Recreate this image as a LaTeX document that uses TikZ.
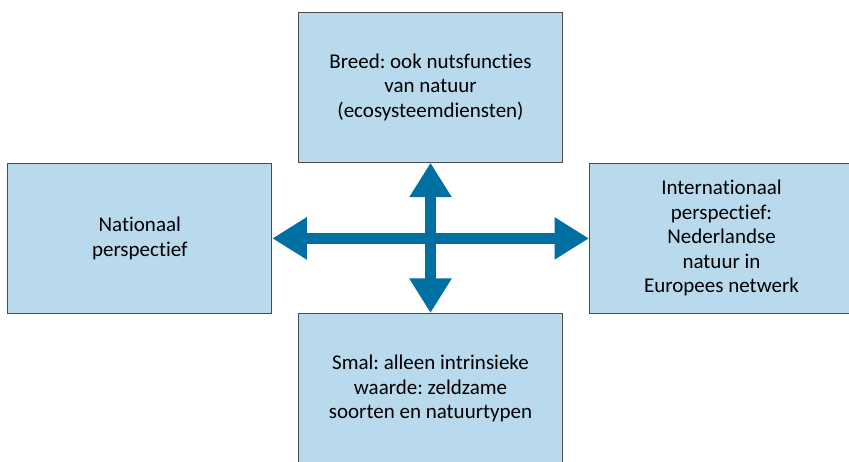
\documentclass[tikz,border=0pt]{standalone}
\usepackage{fontspec}
\setmainfont{Carlito}[Ligatures=CommonOff]
\frenchspacing
\usetikzlibrary{arrows.meta}
\definecolor{boxblue}{RGB}{185,217,236}
\definecolor{arrowblue}{RGB}{0,112,162}

\begin{document}
\begin{tikzpicture}[x=1pt,y=1pt,
  vak/.style={draw=black!70,line width=1pt,fill=boxblue,minimum width=264pt,
    minimum height=150pt,align=center,inner sep=0pt,
    font=\fontsize{21}{24.5}\selectfont},
  pijl/.style={draw=arrowblue,line width=10.5pt,
    {Triangle[length=34.5pt,width=40pt]}-{Triangle[length=34.5pt,width=40pt]}}]

\useasboundingbox (0,0) rectangle (849,462);
\clip (0,0) rectangle (849,462);

\node[vak] (breed) at (430.5,374.8) {Breed: ook nutsfuncties\\van natuur\\(ecosysteemdiensten)};
\node[vak] (nat) at (139.8,223.6) {Nationaal\\perspectief};
\node[vak] (int) at (721.5,223.6) {Internationaal\\perspectief:\\Nederlandse\\natuur in\\Europees netwerk};
\node[vak] (smal) at (430.5,73.5) {Smal: alleen intrinsieke\\waarde: zeldzame\\soorten en natuurtypen};

\draw[pijl] (nat.east) -- (int.west);
\draw[pijl] (breed.south) -- (smal.north);
\end{tikzpicture}
\end{document}
